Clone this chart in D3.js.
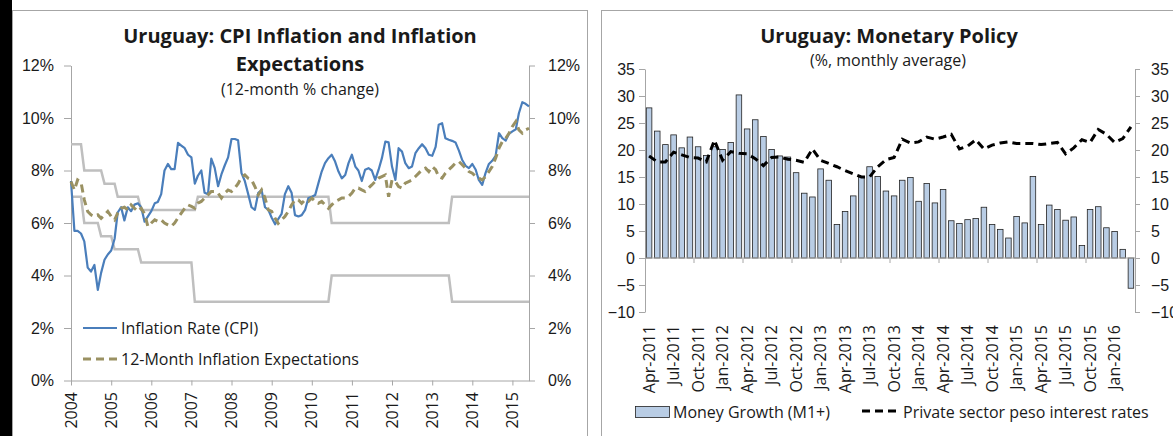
<!DOCTYPE html>
<html>
<head>
<meta charset="utf-8">
<script src="https://cdn.jsdelivr.net/npm/d3@7"></script>
<style>
  body { margin: 0; background: #fff; }
  svg { display: block; font-family: "Open Sans", Lato, sans-serif; }
</style>
</head>
<body>
<svg id="chart"></svg>
<script>
// ---- left panel data: monthly, Jan-2004 .. Jun-2015 ----
const cpiMonths = d3.utcMonth.range(new Date(Date.UTC(2004, 0, 1)), new Date(Date.UTC(2015, 6, 1)));
const yearLabels = ["2004", "2005", "2006", "2007", "2008", "2009", "2010", "2011", "2012", "2013", "2014", "2015"];
const pctTicks = [0, 2, 4, 6, 8, 10, 12];

const cpiRate = [
  7.6, 5.7, 5.7, 5.6, 5.3, 4.3, 4.15, 4.4, 3.45, 4.1, 4.6, 4.8,
  4.95, 5.4, 6.4, 6.6, 6.1, 6.6, 6.45, 6.7, 6.75, 6.6, 6.05, 6.25,
  6.45, 6.75, 6.8, 7.1, 8.0, 8.25, 8.05, 8.05, 9.05, 8.95, 8.85, 8.6,
  8.5, 7.5, 7.8, 8.0, 7.15, 7.1, 8.45, 8.1, 7.4, 7.85, 8.2, 8.5,
  9.2, 9.2, 9.15, 7.9, 7.6, 7.1, 6.6, 6.5, 7.15, 7.25, 6.6, 6.5,
  6.2, 5.95, 6.15, 6.35, 7.1, 7.4, 7.15, 6.3, 6.25, 6.3, 6.5, 6.95,
  7.0, 7.07, 7.5, 7.96, 8.28, 8.47, 8.6, 8.34, 7.96, 7.7, 7.83, 8.28,
  8.6, 8.15, 8.0, 7.6, 8.03, 8.09, 8.0, 7.64, 8.03, 8.47, 9.1, 9.07,
  8.15, 7.64, 8.85, 8.72, 8.28, 8.09, 8.15, 8.66, 8.85, 9.0, 8.85, 8.6,
  8.56, 8.9, 9.74, 9.8, 9.23, 9.17, 9.13, 9.07, 8.76, 8.4, 8.18, 8.09,
  8.25, 8.03, 7.64, 7.45, 7.9, 8.25, 8.37, 8.56, 9.42, 9.23, 9.14, 9.4,
  9.49, 9.57, 10.18, 10.6, 10.54, 10.44
];

const inflationExpectations = [
  7.58, 7.26, 7.64, 7.55, 6.88, 6.44, 6.31, 6.25, 6.31, 6.18, 6.31, 6.44,
  6.25, 6.12, 6.38, 6.56, 6.6, 6.5, 6.69, 6.56, 6.44, 6.56, 6.35, 5.87,
  6.0, 6.12, 6.06, 6.12, 6.0, 5.93, 5.87, 6.0, 6.2, 6.38, 6.56, 6.69,
  6.63, 6.56, 6.76, 6.82, 6.95, 7.07, 7.2, 7.2, 7.14, 6.95, 7.14, 7.26,
  7.2, 7.33, 7.5, 7.75, 7.83, 7.7, 7.64, 7.39, 7.07, 7.26, 6.95, 6.5,
  6.44, 6.18, 5.99, 6.12, 6.25, 6.44, 6.69, 6.88, 6.88, 6.75, 6.88, 6.82,
  6.95, 6.82, 6.75, 6.82, 6.69, 6.56, 6.69, 6.82, 6.88, 6.95, 6.95, 7.01,
  7.14, 7.33, 7.33, 7.26, 7.2, 7.33, 7.45, 7.58, 7.71, 7.77, 7.83, 7.0,
  7.64, 7.58, 7.39, 7.33, 7.52, 7.58, 7.64, 7.77, 7.9, 8.03, 8.09, 7.96,
  8.15, 8.03, 7.77, 7.71, 7.9, 8.03, 8.15, 8.28, 8.34, 8.22, 8.09, 7.96,
  7.9, 7.77, 7.71, 7.64, 7.77, 7.96, 8.15, 8.47, 8.85, 9.1, 9.23, 9.42,
  9.68, 9.87, 9.55, 9.42, 9.55, 9.61
];

// inflation target range (upper / lower bound)
const targetUpper = [
  9, 9, 9, 9, 8, 8, 8, 8, 8, 8, 7.5, 7.5,
  7.5, 7.5, 7, 7, 7, 7, 7, 7, 7, 6.5, 6.5, 6.5,
  6.5, 6.5, 6.5, 6.5, 6.5, 6.5, 6.5, 6.5, 6.5, 6.5, 6.5, 6.5,
  6.5, 6.5, 7, 7, 7, 7, 7, 7, 7, 7, 7, 7,
  7, 7, 7, 7, 7, 7, 7, 7, 7, 7, 7, 7,
  7, 7, 7, 7, 7, 7, 7, 7, 7, 7, 7, 7,
  7, 7, 7, 7, 7, 7, 6, 6, 6, 6, 6, 6,
  6, 6, 6, 6, 6, 6, 6, 6, 6, 6, 6, 6,
  6, 6, 6, 6, 6, 6, 6, 6, 6, 6, 6, 6,
  6, 6, 6, 6, 6, 6, 7, 7, 7, 7, 7, 7,
  7, 7, 7, 7, 7, 7, 7, 7, 7, 7, 7, 7,
  7, 7, 7, 7, 7, 7
];
const targetLower = [
  7, 7, 7, 7, 6, 6, 6, 6, 6, 5.5, 5.5, 5.5,
  5.5, 5, 5, 5, 5, 5, 5, 5, 5, 4.5, 4.5, 4.5,
  4.5, 4.5, 4.5, 4.5, 4.5, 4.5, 4.5, 4.5, 4.5, 4.5, 4.5, 4.5,
  4.5, 3, 3, 3, 3, 3, 3, 3, 3, 3, 3, 3,
  3, 3, 3, 3, 3, 3, 3, 3, 3, 3, 3, 3,
  3, 3, 3, 3, 3, 3, 3, 3, 3, 3, 3, 3,
  3, 3, 3, 3, 3, 3, 4, 4, 4, 4, 4, 4,
  4, 4, 4, 4, 4, 4, 4, 4, 4, 4, 4, 4,
  4, 4, 4, 4, 4, 4, 4, 4, 4, 4, 4, 4,
  4, 4, 4, 4, 4, 4, 3, 3, 3, 3, 3, 3,
  3, 3, 3, 3, 3, 3, 3, 3, 3, 3, 3, 3,
  3, 3, 3, 3, 3, 3
];

// ---- right panel data: monthly, Apr-2011 .. Mar-2016 ----
const mpCategories = d3.utcMonth.range(new Date(Date.UTC(2011, 3, 1)), new Date(Date.UTC(2016, 3, 1)))
  .map(d3.utcFormat("%b-%Y"));
const mpTicks = [-10, -5, 0, 5, 10, 15, 20, 25, 30, 35];

const moneyGrowth = [
  27.8, 23.5, 21.0, 22.8, 20.4, 22.4, 20.6, 19.0, 20.6, 20.1, 21.4, 30.2,
  23.9, 25.6, 22.5, 20.1, 18.9, 18.7, 15.8, 12.0, 11.3, 16.5, 14.4, 6.2,
  8.6, 11.5, 15.1, 16.9, 15.1, 12.4, 11.5, 14.4, 14.9, 10.5, 13.8, 10.2,
  12.7, 6.9, 6.4, 7.1, 7.3, 9.4, 6.2, 5.3, 3.7, 7.7, 6.5, 15.1,
  6.2, 9.8, 9.0, 7.0, 7.6, 2.3, 9.0, 9.5, 5.6, 4.9, 1.6, -5.6
];
const pesoRates = [
  18.9, 17.8, 17.8, 19.6, 19.1, 18.6, 18.5, 17.8, 21.8, 18.1, 19.7, 19.4,
  19.3, 18.4, 17.1, 18.6, 18.7, 18.3, 18.1, 17.7, 20.2, 18.1, 17.5, 16.9,
  16.2, 15.6, 15.0, 15.0, 16.9, 18.2, 18.6, 22.0, 21.3, 21.5, 22.4, 22.0,
  22.4, 22.9, 20.2, 20.7, 21.9, 20.2, 20.9, 21.3, 21.5, 21.2, 21.2, 21.2,
  21.0, 21.2, 21.4, 19.3, 20.4, 21.9, 21.4, 23.8, 22.9, 21.4, 22.1, 24.3
];

const W = 1173, H = 436;
const axisColor = "#a6a6a6";
const textColor = "#1a1a1a";
const smallFont = "16px";

const svg = d3.select("#chart")
  .attr("width", W)
  .attr("height", H)
  .attr("viewBox", [0, 0, W, H]);

svg.append("rect").attr("width", W).attr("height", H).attr("fill", "#fff");
svg.append("rect").attr("width", 12).attr("height", H).attr("fill", "#000");

// panel frames
svg.append("rect")
  .attr("x", 12.5).attr("y", 10.5).attr("width", 575).attr("height", 450)
  .attr("fill", "none").attr("stroke", axisColor);
svg.append("rect")
  .attr("x", 601.5).attr("y", 10.5).attr("width", 600).attr("height", 450)
  .attr("fill", "none").attr("stroke", axisColor);

function styleAxis(g) {
  g.selectAll(".domain, .tick line").attr("stroke", axisColor);
  g.selectAll("text").attr("fill", textColor).style("font-size", smallFont)
    .style("font-family", null);
}

// ================= left panel =================
{
  const x = d3.scaleUtc()
    .domain([cpiMonths[0], cpiMonths[cpiMonths.length - 1]])
    .range([71, 529]);
  const y = d3.scaleLinear().domain([0, 12]).range([380.5, 65.5]);

  const titles = svg.append("g").attr("fill", textColor).attr("text-anchor", "middle");
  titles.append("text").attr("x", 300).attr("y", 43)
    .style("font-size", "20px").style("font-weight", "bold")
    .text("Uruguay: CPI Inflation and Inflation");
  titles.append("text").attr("x", 300).attr("y", 71)
    .style("font-size", "20px").style("font-weight", "bold")
    .text("Expectations");
  titles.append("text").attr("x", 300).attr("y", 95)
    .style("font-size", smallFont)
    .text("(12-month % change)");

  svg.append("g")
    .attr("transform", "translate(71,0)")
    .call(d3.axisLeft(y).tickValues(pctTicks).tickFormat(d => d + "%").tickSize(7).tickPadding(10).tickSizeOuter(0))
    .call(styleAxis);

  svg.append("g")
    .attr("transform", "translate(529,0)")
    .call(d3.axisRight(y).tickValues(pctTicks).tickFormat(d => d + "%").tickSize(6).tickPadding(13).tickSizeOuter(0))
    .call(styleAxis);

  const yearTicks = cpiMonths.filter(d => d.getUTCMonth() === 0);
  svg.append("g")
    .attr("transform", `translate(0,${y(0)})`)
    .call(d3.axisBottom(x).tickValues(yearTicks).tickFormat("").tickSize(5).tickSizeOuter(0))
    .call(styleAxis);

  svg.append("g")
    .selectAll("text")
    .data(yearTicks)
    .join("text")
    .attr("transform", d => `translate(${x(d)},392) rotate(-90)`)
    .attr("text-anchor", "end")
    .attr("dy", "0.35em")
    .attr("fill", textColor)
    .style("font-size", smallFont)
    .text((d, i) => yearLabels[i]);

  const line = d3.line()
    .x((d, i) => x(cpiMonths[i]))
    .y(d => y(d));

  svg.append("path").attr("d", line(targetUpper))
    .attr("fill", "none").attr("stroke", "#bfbfbf").attr("stroke-width", 2.5);
  svg.append("path").attr("d", line(targetLower))
    .attr("fill", "none").attr("stroke", "#bfbfbf").attr("stroke-width", 2.5);
  svg.append("path").attr("d", line(cpiRate))
    .attr("fill", "none").attr("stroke", "#4a7ebb").attr("stroke-width", 2.2)
    .attr("stroke-linejoin", "round");
  svg.append("path").attr("d", line(inflationExpectations))
    .attr("fill", "none").attr("stroke", "#9a9162").attr("stroke-width", 3)
    .attr("stroke-dasharray", "8,5");

  // legend
  const lg = svg.append("g");
  lg.append("line").attr("x1", 83).attr("x2", 117).attr("y1", 328).attr("y2", 328)
    .attr("stroke", "#4a7ebb").attr("stroke-width", 2.2);
  lg.append("text").attr("x", 121).attr("y", 328).attr("dy", "0.35em")
    .attr("fill", textColor).style("font-size", smallFont).text("Inflation Rate (CPI)");
  lg.append("line").attr("x1", 83).attr("x2", 117).attr("y1", 359).attr("y2", 359)
    .attr("stroke", "#9a9162").attr("stroke-width", 3).attr("stroke-dasharray", "8,5");
  lg.append("text").attr("x", 121).attr("y", 359).attr("dy", "0.35em")
    .attr("fill", textColor).style("font-size", smallFont).text("12-Month Inflation Expectations");
}

// ================= right panel =================
{
  const x = d3.scaleBand()
    .domain(mpCategories)
    .range([645, 1135])
    .paddingInner(0.32)
    .paddingOuter(0.16);
  const step = x.step();
  const y = d3.scaleLinear().domain([-10, 35]).range([312, 69]);

  const titles = svg.append("g").attr("fill", textColor).attr("text-anchor", "middle");
  titles.append("text").attr("x", 889).attr("y", 43)
    .style("font-size", "20px").style("font-weight", "bold")
    .text("Uruguay: Monetary Policy");
  titles.append("text").attr("x", 888).attr("y", 66)
    .style("font-size", smallFont)
    .text("(%, monthly average)");

  svg.append("g")
    .attr("transform", "translate(645,0)")
    .call(d3.axisLeft(y).tickValues(mpTicks).tickSize(6).tickPadding(4).tickSizeOuter(0))
    .call(styleAxis);
  svg.append("g")
    .attr("transform", "translate(1135,0)")
    .call(d3.axisRight(y).tickValues(mpTicks).tickSize(5).tickPadding(11).tickSizeOuter(0))
    .call(styleAxis);

  // bars
  svg.append("g")
    .selectAll("rect")
    .data(moneyGrowth)
    .join("rect")
    .attr("x", (d, i) => x(mpCategories[i]))
    .attr("width", x.bandwidth())
    .attr("y", d => y(Math.max(0, d)))
    .attr("height", d => Math.abs(y(d) - y(0)))
    .attr("fill", "#b9cde5")
    .attr("stroke", "#222")
    .attr("stroke-width", 0.8);

  // zero axis with tick marks every 6 months
  const zero = y(0);
  const ax = svg.append("g");
  ax.append("line").attr("x1", 645).attr("x2", 1135).attr("y1", zero).attr("y2", zero)
    .attr("stroke", axisColor);
  ax.selectAll("line.tk")
    .data(mpCategories.filter((d, i) => i > 0 && i % 6 === 0))
    .join("line")
    .attr("class", "tk")
    .attr("x1", d => x(d) - step * x.paddingInner() / 2)
    .attr("x2", d => x(d) - step * x.paddingInner() / 2)
    .attr("y1", zero).attr("y2", zero + 5)
    .attr("stroke", axisColor);

  svg.append("g")
    .selectAll("text")
    .data(mpCategories.filter((d, i) => i % 3 === 0))
    .join("text")
    .attr("transform", d => `translate(${x(d) + x.bandwidth() / 2},325) rotate(-90)`)
    .attr("text-anchor", "end")
    .attr("dy", "0.35em")
    .attr("fill", textColor)
    .style("font-size", smallFont)
    .text(d => d);

  const line = d3.line()
    .x((d, i) => x(mpCategories[i]) + x.bandwidth() / 2)
    .y(d => y(d));
  svg.append("path").attr("d", line(pesoRates))
    .attr("fill", "none").attr("stroke", "#000").attr("stroke-width", 3)
    .attr("stroke-dasharray", "8,5");

  // legend
  const lg = svg.append("g");
  lg.append("rect").attr("x", 635.5).attr("y", 406.5).attr("width", 34).attr("height", 11)
    .attr("fill", "#b9cde5").attr("stroke", "#222").attr("stroke-width", 0.8);
  lg.append("text").attr("x", 673).attr("y", 412).attr("dy", "0.35em")
    .attr("fill", textColor).style("font-size", smallFont).text("Money Growth (M1+)");
  lg.append("line").attr("x1", 862).attr("x2", 900).attr("y1", 411).attr("y2", 411)
    .attr("stroke", "#000").attr("stroke-width", 3).attr("stroke-dasharray", "8,5");
  lg.append("text").attr("x", 903).attr("y", 412).attr("dy", "0.35em")
    .attr("fill", textColor).style("font-size", smallFont).text("Private sector peso interest rates");
}
</script>
</body>
</html>
